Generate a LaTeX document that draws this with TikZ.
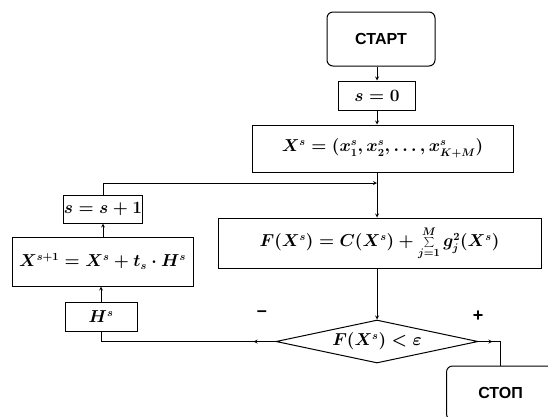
\documentclass[tikz,border=0pt]{standalone}
\usepackage{fontspec}
\setmainfont{Liberation Serif}
\newfontfamily\capfont{Liberation Sans}
\usetikzlibrary{shapes, arrows, positioning}

\begin{document}
\begin{tikzpicture}[x=1pt, y=-1pt, >=stealth,
    block/.style={draw, rectangle, line width=1pt, inner sep=0pt, font=\fontsize{16}{19}\selectfont\boldmath},
    term/.style={draw, rectangle, rounded corners=6pt, line width=1pt, minimum width=108pt, minimum height=54pt, font=\capfont\bfseries\fontsize{16}{19}\selectfont},
    check/.style={draw, diamond, aspect=4.7, line width=1pt, inner sep=0pt, minimum width=202pt, minimum height=43pt, font=\fontsize{16}{19}\selectfont\boldmath},
    sign/.style={font=\capfont\bfseries\fontsize{18}{21}\selectfont},
    link/.style={line width=0.8pt}]
        \useasboundingbox (0,0) rectangle (548,416);

        % Draw the blocks
        \node (start) [term]  at (381,39) {СТАРТ};
        \node (szero) [block, minimum width=77pt, minimum height=29pt]  at (377,95.5) {$s=0$};
        \node (xs)    [block, minimum width=261pt, minimum height=47pt] at (382.5,148.5) {$X^{s}=(x_1^{s},x_2^{s},\dots,x_{K+M}^{s})$};
        \node (fx)    [block, minimum width=323pt, minimum height=50pt] at (379.5,243) {$F(X^{s})=C(X^{s})+\sum\limits_{j=1}^{M}g_j^{2}(X^{s})$};
        \node (cond)  [check] at (377,341.5) {$F(X^{s})<\varepsilon$};
        \node (stop)  [term]  at (500.5,393) {СТОП};
        \node (inc)   [block, minimum width=76pt, minimum height=28pt]  at (103,209) {$s=s+1$};
        \node (upd)   [block, minimum width=181pt, minimum height=49pt] at (102.5,261.5) {$X^{s+1}=X^{s}+t_s\cdot H^{s}$};
        \node (hs)    [block, minimum width=72pt, minimum height=29pt]  at (101,316.5) {$H^{s}$};

        % Labels of the branches
        \node (minus) [sign] at (262,314) {–};
        \node (plus)  [sign] at (478,316) {+};

        \coordinate (join) at (377,183);

        % Draw the connecting lines
        \draw [link, ->] (start.south -| szero.north) -- (szero.north);
        \draw [link, ->] (szero.south) -- (szero.south |- xs.north);
        \draw [link, ->] (xs.south -| join) -- (fx.north -| join);
        \draw [link, ->] (fx.south -| cond.north) -- (cond.north);
        \draw [link, ->] (inc.north) |- (join);
        \draw [link, ->] (hs.north) -- (hs.north |- upd.south);
        \draw [link, ->] (upd.north -| inc.south) -- (inc.south);

        % Exits of the check
        \draw [link] (cond.west) -| (hs.south);
        \draw [link, ->] (cond.west) -- ++(-22,0);
        \draw [link] (cond.east) -| (stop.north);
        \draw [link, ->] (cond.east) -- ++(14,0);
    \end{tikzpicture}
\end{document}
